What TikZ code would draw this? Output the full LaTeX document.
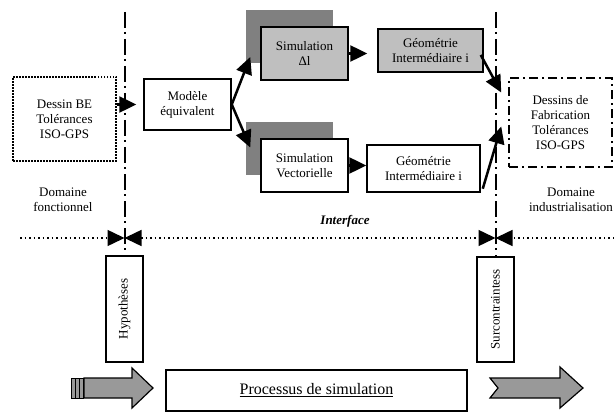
\documentclass[tikz,border=0pt]{standalone}
\usepackage{fontspec}
\setmainfont{Liberation Serif}
\usetikzlibrary{arrows.meta}
\usetikzlibrary{shadows}

\begin{document}
\begin{tikzpicture}[x=1pt,y=-1pt,line join=miter,>={Triangle[length=17pt,width=16pt]},
  box/.style={draw,line width=1.5pt,fill=white,inner sep=0pt,align=center,font=\fontsize{13}{15}\selectfont},
  greybox/.style={box,fill=black!25},
  shadowed/.style={drop shadow={shadow xshift=-15pt,shadow yshift=17pt,fill=black!50,opacity=1}},
  flow/.style={->,line width=2.5pt},
  vline/.style={line width=2pt,dash pattern=on 16pt off 4pt on 2pt off 5pt},
  dotline/.style={line width=1.5pt,dash pattern=on 1.5pt off 3pt},
  txt/.style={align=center,font=\fontsize{13}{15}\selectfont},
  bigarrow/.style={draw,line width=1.2pt,fill=black!40}]
\useasboundingbox (0,0) rectangle (614,412);
\node[box,dash pattern=on 1.5pt off 1.5pt,minimum width=103,minimum height=84] (dessinBE) at (64.5,119) {Dessin BE\\Tolérances\\ISO-GPS};
\node[box,minimum width=87,minimum height=51] (modele) at (187.5,104.5) {Modèle\\équivalent};
\node[greybox,shadowed,minimum width=87,minimum height=53] (simDl) at (304.5,53.5) {Simulation\\Δl};
\node[box,shadowed,minimum width=87,minimum height=53] (simVec) at (304.5,165.5) {Simulation\\Vectorielle};
\node[greybox,minimum width=105,minimum height=43] (geoTop) at (430.5,50.5) {Géométrie\\Intermédiaire i};
\node[box,minimum width=113,minimum height=47] (geoBot) at (423.5,168.5) {Géométrie\\Intermédiaire i};
\node[box,dash pattern=on 9pt off 4pt on 2pt off 4pt,minimum width=103,minimum height=89] (dessinFab) at (560.5,122.5) {Dessins de\\Fabrication\\Tolérances\\ISO-GPS};
\node[box,rotate=90,minimum width=106,minimum height=37] (hyp) at (124.5,309) {Hypothèses};
\node[box,rotate=90,minimum width=105,minimum height=37] (surc) at (495.5,309.5) {Surcontraintess};
\node[box,minimum width=301,minimum height=41,font=\fontsize{16}{18}\selectfont] (proc) at (316.5,390.5) {\underline{Processus de simulation}};
\node[txt] (domF) at (63,200) {Domaine\\fonctionnel};
\node[txt] (domI) at (571,200) {Domaine\\industrialisation};
\node[txt,font=\fontsize{13}{15}\selectfont\bfseries\itshape] (interf) at (345,221) {Interface};
\coordinate (topL) at (124.5,12);
\coordinate (topR) at (495.5,12);
\draw[vline] (topL) -- (hyp.east);
\draw[vline] (topR) -- (surc.east);
\draw[flow,shorten >=7pt] (dessinBE.east |- modele.west) -- (modele.west);
\draw[flow] (modele.east) -- ([xshift=-10pt,yshift=-3.5pt]simDl.west);
\draw[flow] (modele.east) -- ([xshift=-10pt,yshift=18pt]simVec.west);
\draw[flow,shorten >=10pt] (simDl.east) -- (simDl.east -| geoTop.west);
\draw[flow] (simVec.east) -- (simVec.east -| geoBot.west);
\draw[flow] ([xshift=-3pt,yshift=-4.5pt]geoTop.east) -- ([xshift=-7pt,yshift=30pt]dessinFab.west);
\draw[flow] ([xshift=2pt,yshift=4pt]geoBot.south east) -- ([xshift=-7pt,yshift=-4pt]dessinFab.west);
\coordinate (dotW) at (20,238);
\coordinate (dotE) at (614,238);
\coordinate (crossL) at (124.5,238);
\coordinate (crossR) at (495.5,238);
\draw[dotline,->] (dotW) -- (crossL);
\draw[dotline,<->] (crossL) -- (crossR);
\draw[dotline,->] (dotE) -- (crossR);
\draw[bigarrow] (84,378) -- (132,378) -- (132,368) -- (153,388) -- (132,408) -- (132,398) -- (84,398) -- cycle;
\foreach \x in {71,75,79}
\draw[bigarrow,line width=1pt] (\x,378) rectangle ++(4,20);
\draw[bigarrow] (490,378) -- (560,378) -- (560,367) -- (583,388) -- (560,408) -- (560,398) -- (490,398) -- (498,388) -- cycle;
\end{tikzpicture}
\end{document}
